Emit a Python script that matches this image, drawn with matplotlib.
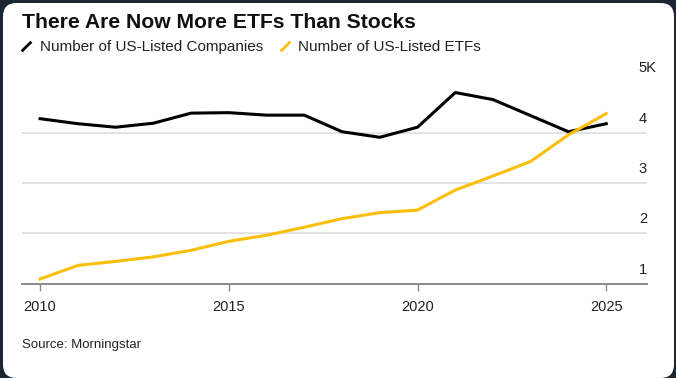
import matplotlib.pyplot as plt
import matplotlib.transforms as mtransforms
from matplotlib.lines import Line2D
from matplotlib.patches import FancyBboxPatch

plt.rcParams['font.family'] = ['Liberation Sans', 'DejaVu Sans']

# values (counts)
years = list(range(2010, 2026))
companies = [4280, 4180, 4110, 4190, 4390, 4400, 4350, 4350, 4020, 3910,
             4110, 4800, 4660, 4340, 4020, 4180]
etfs = [1090, 1360, 1440, 1530, 1660, 1840, 1960, 2120, 2290, 2410,
        2460, 2860, 3140, 3430, 3960, 4380]
ytick_vals = [1000, 2000, 3000, 4000, 5000]
ytick_labels = ["1", "2", "3", "4", "5K"]
xtick_vals = [2010, 2015, 2020, 2025]

BLACK = "#000000"
YELLOW = "#FBBF0A"
W, H = 676, 378

fig = plt.figure(figsize=(W / 100, H / 100), dpi=100, facecolor="#1b2631")

# white card with rounded corners
card = FancyBboxPatch((3 / W, 0 / H), (674 - 3) / W, 375 / H,
                      boxstyle="round,pad=0,rounding_size=0.02",
                      transform=fig.transFigure, facecolor="white",
                      edgecolor="none", zorder=-1, mutation_aspect=W / H)
fig.patches.append(card)

ax = fig.add_axes([22 / W, (H - 283.5) / H, (647 - 22) / W, (283.5 - 82.5) / H])
ax.set_facecolor("none")
ax.set_zorder(1)

ax.plot(years, companies, color=BLACK, lw=2.2, clip_on=False, zorder=3)
ax.plot(years, etfs, color=YELLOW, lw=2.2, clip_on=False, zorder=4)

ax.set_xlim(2009.52, 2026.08)
ax.set_ylim(1000, 5000)

for v in ytick_vals[1:]:
    ax.axhline(v, color="#e3e3e3", lw=1.4, zorder=1)
ax.set_yticks([])

for s in ["top", "right", "left"]:
    ax.spines[s].set_visible(False)
ax.spines["bottom"].set_color("#8a8a8a")
ax.spines["bottom"].set_linewidth(1.4)

ax.set_xticks(xtick_vals)
ax.set_xticklabels([str(x) for x in xtick_vals])
ax.tick_params(axis="x", direction="out", length=5, width=1, color="#8a8a8a",
               pad=7, labelsize=10.5, labelcolor="#222222")

trans = mtransforms.offset_copy(
    mtransforms.blended_transform_factory(ax.transAxes, ax.transData),
    fig=fig, x=0, y=7, units="dots")
for v, lab in zip(ytick_vals, ytick_labels):
    ax.text(0.987, v, lab, transform=trans, ha="left", va="bottom",
            fontsize=10.5, color="#222222", clip_on=False)

fig.text(22 / W, 1 - 28 / H, "There Are Now More ETFs Than Stocks",
         fontsize=15.2, fontweight="bold", color="#111111", va="baseline")

slash = [(-1, -1), (1, 1)]
handles = [
    Line2D([], [], color=BLACK, marker=slash, markersize=7, mew=2, ls="None"),
    Line2D([], [], color=YELLOW, marker=slash, markersize=7, mew=2, ls="None"),
]
fig.legend(handles, ["Number of US-Listed Companies", "Number of US-Listed ETFs"],
           loc="upper left", bbox_to_anchor=(20 / W, 1 - 40 / H), ncol=2,
           frameon=False, fontsize=11, handlelength=0.8, handletextpad=0.5,
           columnspacing=1.0, borderpad=0, borderaxespad=0, labelcolor="#222222")

fig.text(22 / W, 1 - 348 / H, "Source: Morningstar", fontsize=9.5,
         color="#222222", va="baseline")

fig.savefig("out.png", dpi=100, facecolor=fig.get_facecolor())
